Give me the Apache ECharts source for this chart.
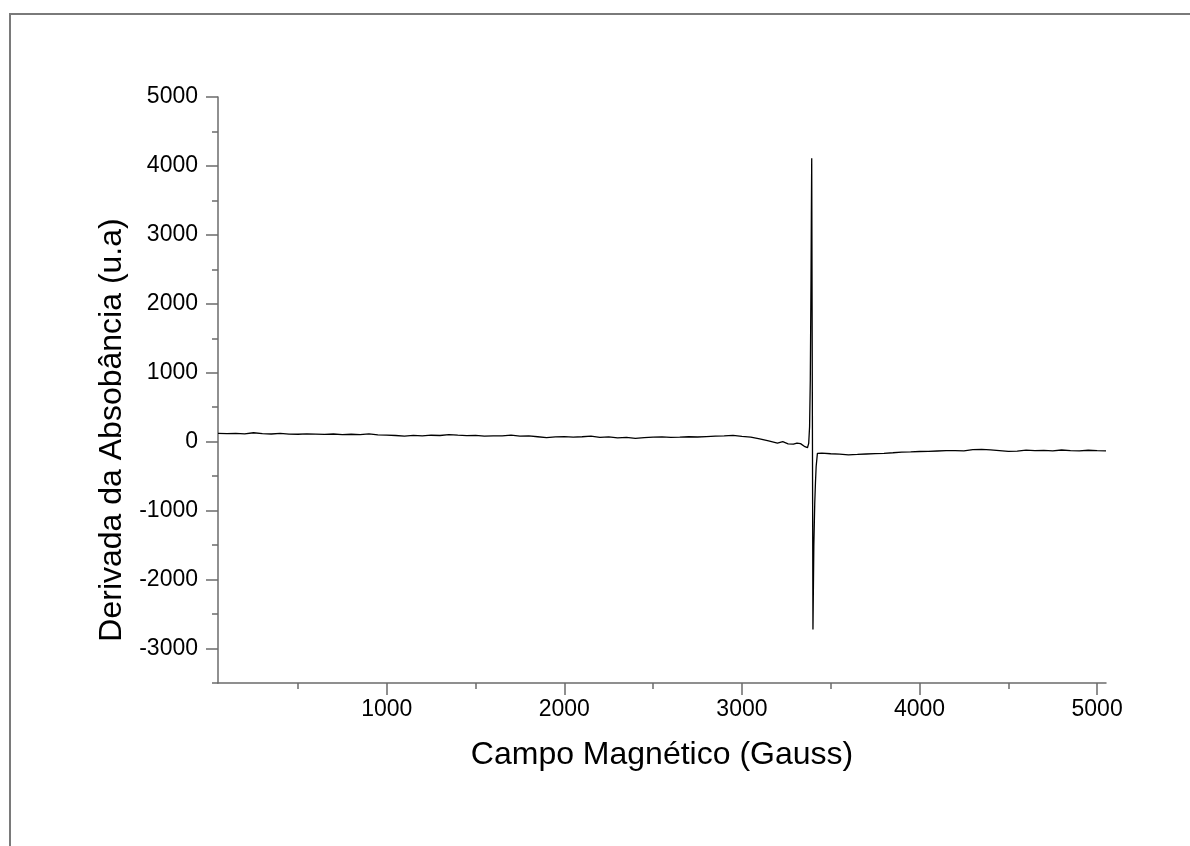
<!DOCTYPE html>
<html>
<head>
<meta charset="utf-8">
<script src="https://cdn.jsdelivr.net/npm/echarts@6/dist/echarts.min.js"></script>
<style>
  html, body { margin: 0; padding: 0; background: #fff; }
  #frame {
    position: absolute; left: 9px; top: 13px; width: 1200px; height: 900px;
    border-left: 2px solid #7a7a7a; border-top: 2px solid #7a7a7a;
  }
  #chart { position: absolute; left: 0; top: 0; width: 1190px; height: 846px; }
</style>
</head>
<body>
<div id="frame"></div>
<div id="chart"></div>
<script>
// campo magnético (G) e derivada da absorbância (u.a)
const field = [
  50, 100, 150, 200, 250, 300, 350, 400, 450, 500,
  550, 600, 650, 700, 750, 800, 850, 900, 950, 1000,
  1050, 1100, 1150, 1200, 1250, 1300, 1350, 1400, 1450, 1500,
  1550, 1600, 1650, 1700, 1750, 1800, 1850, 1900, 1950, 2000,
  2050, 2100, 2150, 2200, 2250, 2300, 2350, 2400, 2450, 2500,
  2550, 2600, 2650, 2700, 2750, 2800, 2850, 2900, 2950, 3000,
  3050, 3100, 3150, 3200, 3230, 3260, 3290, 3310, 3330, 3355,
  3369, 3376, 3381, 3385, 3389, 3391, 3393, 3400, 3405, 3410,
  3414, 3418, 3425, 3450, 3500, 3550, 3600, 3650, 3700, 3750,
  3800, 3850, 3900, 3950, 4000, 4050, 4100, 4150, 4200, 4250,
  4300, 4350, 4400, 4450, 4500, 4550, 4600, 4650, 4700, 4750,
  4800, 4850, 4900, 4950, 5000, 5050
]
const signal = [
  120, 118, 122, 115, 130, 118, 112, 120, 110, 108,
  114, 110, 106, 112, 104, 108, 102, 115, 100, 96,
  90, 82, 92, 86, 94, 90, 104, 94, 88, 92,
  80, 86, 84, 96, 80, 84, 72, 60, 70, 74,
  66, 72, 80, 64, 70, 56, 62, 48, 58, 66,
  70, 62, 66, 72, 68, 74, 80, 84, 92, 76,
  66, 40, 12, -20, 0, -30, -36, -20, -28, -72,
  -87, -24, 217, 894, 2343, 3310, 4110, -2725, -1500, -900,
  -600, -360, -170, -165, -175, -180, -190, -185, -178, -172,
  -168, -160, -150, -148, -142, -140, -135, -130, -128, -132,
  -115, -110, -118, -128, -140, -138, -122, -130, -126, -132,
  -120, -128, -134, -124, -130, -132
]

const xMajor = [1000, 2000, 3000, 4000, 5000]
const xMinor = [500, 1500, 2500, 3500, 4500]
const yMajor = [-3000, -2000, -1000, 0, 1000, 2000, 3000, 4000, 5000]
const yMinor = [-3500, -2500, -1500, -500, 500, 1500, 2500, 3500, 4500]

const axisGray = '#6b6b6b'
const fontFamily = 'Liberation Sans, Arial, sans-serif'
const plain = v => String(v)

const chart = echarts.init(document.getElementById('chart'))

const option = {
  animation: false,
  grid: { left: 218, top: 97, right: 84, bottom: 163, containLabel: false },
  xAxis: [
    {
      type: 'value',
      min: 50,
      max: 5050,
      position: 'bottom',
      name: 'Campo Magnético (Gauss)',
      nameLocation: 'middle',
      nameGap: 56,
      nameTextStyle: { color: '#000', fontSize: 32, fontFamily },
      axisLine: { show: true, onZero: false, lineStyle: { color: axisGray, width: 1.5 } },
      axisTick: { show: true, customValues: xMajor, length: 12, lineStyle: { color: axisGray, width: 1.5 } },
      axisLabel: { customValues: xMajor, formatter: plain, color: '#000', fontSize: 23, fontFamily, margin: 15 },
      splitLine: { show: false },
    },
    {
      type: 'value',
      min: 50,
      max: 5050,
      position: 'bottom',
      axisLine: { show: false, onZero: false },
      axisTick: { show: true, customValues: xMinor, length: 6, lineStyle: { color: axisGray, width: 1.5 } },
      axisLabel: { show: false },
      splitLine: { show: false },
    },
  ],
  yAxis: [
    {
      type: 'value',
      min: -3500,
      max: 5000,
      position: 'left',
      name: 'Derivada da Absobância (u.a)',
      nameLocation: 'middle',
      nameGap: 71,
      nameTextStyle: { color: '#000', fontSize: 32, fontFamily, padding: [0, 80, 0, 0] },
      axisLine: { show: true, onZero: false, lineStyle: { color: axisGray, width: 1.5 } },
      axisTick: { show: true, customValues: yMajor, length: 12, lineStyle: { color: axisGray, width: 1.5 } },
      axisLabel: { customValues: yMajor, formatter: plain, color: '#000', fontSize: 23, fontFamily, margin: 20 },
      splitLine: { show: false },
    },
    {
      type: 'value',
      min: -3500,
      max: 5000,
      position: 'left',
      axisLine: { show: false, onZero: false },
      axisTick: { show: true, customValues: yMinor, length: 6, lineStyle: { color: axisGray, width: 1.5 } },
      axisLabel: { show: false },
      splitLine: { show: false },
    },
  ],
  series: [
    {
      type: 'line',
      xAxisIndex: 0,
      yAxisIndex: 0,
      data: field.map((f, i) => [f, signal[i]]),
      showSymbol: false,
      lineStyle: { color: '#000', width: 1.3 },
    },
  ],
}

chart.setOption(option)
</script>
</body>
</html>
